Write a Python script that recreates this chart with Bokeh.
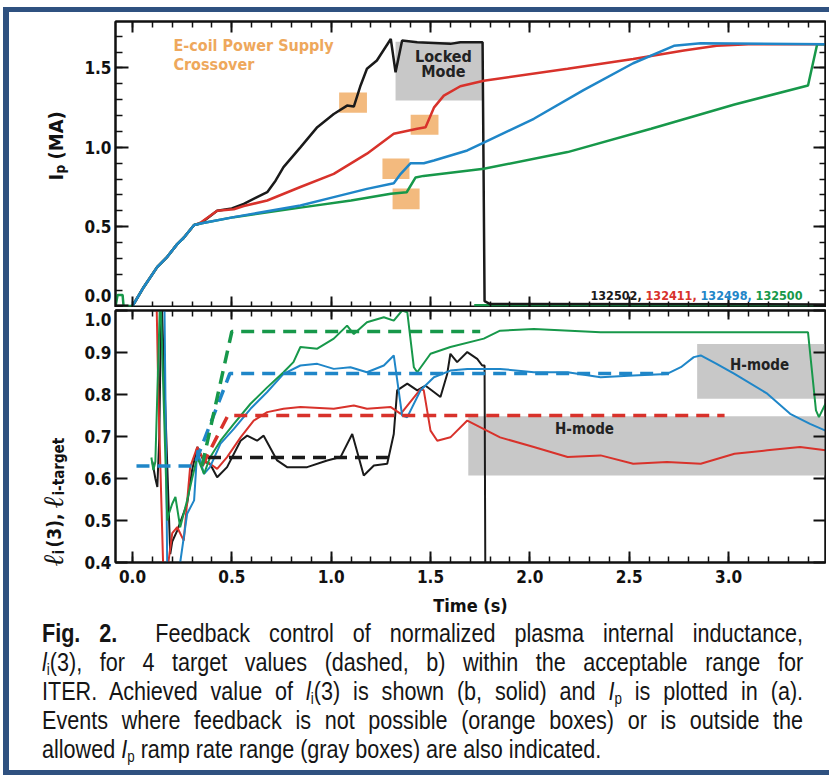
import numpy as np
from bokeh.plotting import figure
from bokeh.models import Range1d, FixedTicker, CustomJSTickFormatter, LinearAxis, Label, Div
from bokeh.layouts import column, row
from bokeh.embed import file_html
from bokeh.resources import INLINE
from bokeh.core.properties import value

# ---------------- data ----------------
shots = ["132502", "132411", "132498", "132500"]
shot_colors = ["#1a1a1a", "#d8322b", "#1f86c8", "#17984a"]

# (a) plasma current Ip (MA) vs time (s)
ip_t_black = [0.0, 0.057, 0.124, 0.175, 0.225, 0.258, 0.31, 0.342, 0.426, 0.5, 0.56, 0.627, 0.678, 0.72, 0.76,
              0.845, 0.93, 1.013, 1.08, 1.114, 1.148, 1.18, 1.23, 1.30, 1.324, 1.357, 1.433, 1.60, 1.65,
              1.762, 1.772, 1.80, 3.488]
ip_black = [0.0, 0.12, 0.245, 0.31, 0.39, 0.43, 0.51, 0.52, 0.60, 0.615, 0.644, 0.686, 0.717, 0.79, 0.875,
            1.0, 1.127, 1.21, 1.263, 1.257, 1.39, 1.495, 1.547, 1.683, 1.473, 1.673, 1.662, 1.652, 1.662,
            1.662, 0.03, 0.012, 0.01]
ip_t_red = [0.0, 0.057, 0.124, 0.175, 0.225, 0.258, 0.31, 0.342, 0.426, 0.51, 0.56, 0.678, 0.845, 1.013,
            1.18, 1.315, 1.433, 1.475, 1.517, 1.567, 1.65, 1.768, 2.19, 2.52, 2.775, 2.94, 3.1, 3.488]
ip_red = [0.0, 0.12, 0.245, 0.31, 0.39, 0.43, 0.51, 0.525, 0.60, 0.61, 0.63, 0.665, 0.75, 0.833,
          0.96, 1.085, 1.117, 1.127, 1.25, 1.326, 1.385, 1.42, 1.495, 1.557, 1.61, 1.64, 1.65, 1.65]
ip_t_blue = [0.0, 0.057, 0.124, 0.175, 0.225, 0.258, 0.31, 0.342, 0.51, 0.845, 1.013, 1.18, 1.315, 1.35,
             1.40, 1.466, 1.517, 1.685, 1.768, 2.02, 2.27, 2.52, 2.725, 2.86, 3.488]
ip_blue = [0.0, 0.12, 0.245, 0.31, 0.39, 0.43, 0.51, 0.52, 0.56, 0.633, 0.686, 0.738, 0.774, 0.833,
           0.90, 0.90, 0.917, 0.98, 1.03, 1.18, 1.36, 1.53, 1.64, 1.656, 1.65]
ip_t_green = [-0.085, -0.075, -0.05, -0.045, 0.0, 0.057, 0.124, 0.175, 0.225, 0.258, 0.31, 0.342, 0.51,
              0.845, 1.10, 1.30, 1.38, 1.425, 1.465, 1.768, 2.19, 2.61, 3.03, 3.40, 3.446, 3.488]
ip_green = [0.0, 0.07, 0.07, 0.0, 0.0, 0.12, 0.245, 0.31, 0.39, 0.43, 0.51, 0.52, 0.56,
            0.62, 0.665, 0.707, 0.717, 0.81, 0.82, 0.865, 0.97, 1.117, 1.27, 1.39, 1.65, 1.65]
ip_t_base = [1.72, 3.488]
ip_base = [0.004, 0.004]

# (b) li(3) achieved (solid)
li_t_black = [0.10, 0.115, 0.125, 0.135, 0.145, 0.19, 0.20, 0.225, 0.275, 0.30, 0.326, 0.36, 0.39, 0.426,
              0.476, 0.544, 0.577, 0.627, 0.66, 0.728, 0.778, 0.879, 0.98, 1.047, 1.106, 1.164, 1.215,
              1.282, 1.315, 1.332, 1.383, 1.433, 1.475, 1.517, 1.55, 1.584, 1.60, 1.634, 1.685, 1.735,
              1.76, 1.772, 1.776]
li_black = [0.64, 0.60, 0.58, 0.70, 1.05, 0.42, 0.45, 0.476, 0.54, 0.62, 0.675, 0.64, 0.635, 0.603,
            0.627, 0.69, 0.702, 0.69, 0.702, 0.643, 0.627, 0.627, 0.643, 0.651, 0.706, 0.607, 0.631,
            0.635, 0.706, 0.81, 0.826, 0.81, 0.821, 0.806, 0.794, 0.849, 0.897, 0.877, 0.901, 0.885,
            0.869, 0.869, 0.35]
li_t_red = [0.12, 0.13, 0.155, 0.175, 0.20, 0.225, 0.258, 0.29, 0.326, 0.36, 0.39, 0.426, 0.476, 0.544,
            0.61, 0.678, 0.76, 0.845, 1.013, 1.114, 1.18, 1.30, 1.35, 1.45, 1.466, 1.50, 1.534, 1.60,
            1.685, 1.85, 2.02, 2.19, 2.356, 2.52, 2.69, 2.86, 3.03, 3.195, 3.36, 3.488]
li_red = [1.05, 0.80, 0.38, 0.38, 0.47, 0.484, 0.452, 0.627, 0.675, 0.643, 0.635, 0.623, 0.651, 0.698,
          0.738, 0.758, 0.766, 0.77, 0.766, 0.774, 0.766, 0.77, 0.754, 0.813, 0.81, 0.714, 0.69, 0.698,
          0.738, 0.698, 0.675, 0.651, 0.655, 0.635, 0.639, 0.635, 0.659, 0.667, 0.675, 0.667]
li_t_blue = [0.16, 0.175, 0.21, 0.24, 0.275, 0.31, 0.326, 0.36, 0.39, 0.443, 0.51, 0.594, 0.678, 0.76,
             0.845, 0.93, 1.013, 1.097, 1.18, 1.265, 1.315, 1.357, 1.383, 1.45, 1.517, 1.60, 1.685, 1.85,
             2.02, 2.19, 2.356, 2.52, 2.69, 2.76, 2.825, 2.86, 2.94, 3.03, 3.195, 3.31, 3.41, 3.488]
li_blue = [1.05, 0.38, 0.38, 0.40, 0.516, 0.548, 0.667, 0.611, 0.627, 0.683, 0.718, 0.766, 0.806, 0.849,
           0.869, 0.873, 0.861, 0.865, 0.853, 0.869, 0.893, 0.75, 0.746, 0.81, 0.841, 0.857, 0.861, 0.861,
           0.853, 0.853, 0.841, 0.845, 0.849, 0.865, 0.889, 0.893, 0.873, 0.849, 0.802, 0.754, 0.73, 0.714]
li_t_green = [0.095, 0.105, 0.115, 0.14, 0.175, 0.183, 0.20, 0.216, 0.24, 0.275, 0.30, 0.326, 0.36, 0.39,
              0.443, 0.51, 0.594, 0.678, 0.76, 0.81, 0.845, 0.93, 1.013, 1.08, 1.114, 1.18, 1.265, 1.315,
              1.357, 1.383, 1.416, 1.433, 1.50, 1.60, 1.768, 1.85, 2.02, 2.356, 2.69, 3.03, 3.40, 3.44,
              3.455, 3.488]
li_green = [0.65, 0.62, 0.64, 1.05, 0.50, 0.516, 0.54, 0.556, 0.484, 0.548, 0.60, 0.651, 0.611, 0.65,
            0.69, 0.73, 0.778, 0.817, 0.853, 0.877, 0.913, 0.909, 0.933, 0.964, 0.944, 0.972, 0.984, 0.976,
            1.0, 0.996, 0.865, 0.853, 0.897, 0.913, 0.933, 0.952, 0.956, 0.948, 0.948, 0.948, 0.948, 0.762,
            0.746, 0.778]

# (b) li targets (dashed)
tg_t_black = [0.38, 1.30]
tg_black = [0.65, 0.65]
tg_t_red = [0.35, 0.48, 2.98]
tg_red = [0.63, 0.75, 0.75]
tg_t_blue = [0.02, 0.31, 0.49, 2.70]
tg_blue = [0.63, 0.63, 0.85, 0.85]
tg_t_green = [0.35, 0.50, 1.75]
tg_green = [0.63, 0.95, 0.95]

# event boxes
orange_left = [1.04, 1.40, 1.258, 1.309]
orange_right = [1.18, 1.54, 1.394, 1.445]
orange_bottom = [1.218, 1.08, 0.80, 0.61]
orange_top = [1.345, 1.206, 0.93, 0.74]
locked_box = dict(left=[1.324], right=[1.762], bottom=[1.295], top=[1.665])
hmode_left = [1.69, 2.842]
hmode_right = [3.488, 3.488]
hmode_bottom = [0.607, 0.79]
hmode_top = [0.748, 0.92]

x_major = [0.0, 0.5, 1.0, 1.5, 2.0, 2.5, 3.0]
x_minor = [round(0.1 * i, 1) for i in range(0, 35)]
ip_major = [0.0, 0.5, 1.0, 1.5]
ip_minor = [round(0.1 * i, 1) for i in range(0, 18)]
ip_label_at = [0.066, 0.5, 1.0, 1.5]      # "0.0" label sits just above its tick
li_major = [0.4, 0.5, 0.6, 0.7, 0.8, 0.9, 1.0]
li_label_at = [0.4, 0.5, 0.6, 0.7, 0.8, 0.9, 0.978]   # "1.0" label sits just below the top

# ---------------- styling ----------------
FONT = "Liberation Sans Narrow, Arial Narrow, DejaVu Sans Condensed, sans-serif"
SERIF = "Liberation Serif, DejaVu Serif, serif"
BLUE_FRAME = "#2f5180"
ORANGE = "#f3ba7e"
ORANGE_TXT = "#eea85c"
GRAY = "#c8c8c8"
INK = "#111111"
TICK_SIZE = "17px"

fmt_plain = CustomJSTickFormatter(code="return tick.toFixed(1);")
fmt_blank = CustomJSTickFormatter(code="return '';")
fmt_ip = CustomJSTickFormatter(code="return tick < 0.2 ? '0.0' : tick.toFixed(1);")
fmt_li = CustomJSTickFormatter(code="return tick > 0.95 ? '1.0' : tick.toFixed(1);")


def style_axis(ax, fmt, tin, tmin):
    ax.axis_line_width = 2
    ax.axis_line_color = INK
    ax.major_tick_in = tin
    ax.major_tick_out = 0
    ax.minor_tick_in = tmin
    ax.minor_tick_out = 0
    ax.major_tick_line_width = 2
    ax.minor_tick_line_width = 1.5
    ax.major_tick_line_color = INK
    ax.minor_tick_line_color = INK
    ax.formatter = fmt
    ax.major_label_text_font = FONT
    ax.major_label_text_font_style = "bold"
    ax.major_label_text_font_size = TICK_SIZE
    ax.major_label_text_color = INK
    if fmt is fmt_blank:
        ax.major_label_standoff = 0


def label_axis(ticks, fmt):
    ax = LinearAxis(ticker=FixedTicker(ticks=ticks, minor_ticks=[]), formatter=fmt)
    ax.axis_line_color = None
    ax.major_tick_line_color = None
    ax.minor_tick_line_color = None
    ax.major_tick_in = 0
    ax.major_tick_out = 0
    ax.minor_tick_in = 0
    ax.minor_tick_out = 0
    ax.major_label_standoff = 4
    ax.major_label_text_font = FONT
    ax.major_label_text_font_style = "bold"
    ax.major_label_text_font_size = TICK_SIZE
    ax.major_label_text_color = INK
    return ax


XR = (-0.0856, 3.488)
TOP_H = 9 + 286 + 0
BOT_H = 3 + 252 + 57

# ---------- top panel ----------
top = figure(frame_width=710, frame_height=286, min_border_left=35, min_border_right=1,
             min_border_top=9, min_border_bottom=0, x_range=Range1d(*XR),
             y_range=Range1d(-0.0095, 1.793), output_backend="svg", toolbar_location=None,
             background_fill_color="white", border_fill_color="white")
top.grid.visible = False
top.outline_line_color = INK
top.outline_line_width = 2
top.xaxis.ticker = FixedTicker(ticks=x_major, minor_ticks=x_minor)
top.yaxis.ticker = FixedTicker(ticks=ip_major, minor_ticks=ip_minor)
style_axis(top.xaxis[0], fmt_blank, 11, 6)
style_axis(top.yaxis[0], fmt_blank, 13, 7)
top.add_layout(label_axis(ip_label_at, fmt_ip), "left")
ax = LinearAxis(ticker=FixedTicker(ticks=ip_major, minor_ticks=ip_minor))
style_axis(ax, fmt_blank, 12, 6)
top.add_layout(ax, "right")
ax = LinearAxis(ticker=FixedTicker(ticks=x_major, minor_ticks=x_minor))
style_axis(ax, fmt_blank, 11, 6)
top.add_layout(ax, "above")

top.quad(left=orange_left, right=orange_right, bottom=orange_bottom, top=orange_top,
         fill_color=ORANGE, line_color=None)
top.quad(fill_color=GRAY, line_color=None, **locked_box)
top.line(ip_t_base, ip_base, line_color=shot_colors[3], line_width=2.5)
top.line(ip_t_black, ip_black, line_color=shot_colors[0], line_width=2.5)
top.line(ip_t_red, ip_red, line_color=shot_colors[1], line_width=2.5)
top.line(ip_t_green, ip_green, line_color=shot_colors[3], line_width=2.5)
top.line(ip_t_blue, ip_blue, line_color=shot_colors[2], line_width=2.5)

top.add_layout(Label(x=0.206, y=1.585, text="E-coil Power Supply", text_font=FONT,
                     text_font_style="bold", text_font_size="16px", text_color=ORANGE_TXT))
top.add_layout(Label(x=0.206, y=1.465, text="Crossover", text_font=FONT,
                     text_font_style="bold", text_font_size="16px", text_color=ORANGE_TXT))
top.add_layout(Label(x=1.565, y=1.515, text="Locked", text_font=FONT, text_align="center",
                     text_font_style="bold", text_font_size="16px", text_color="#222222"))
top.add_layout(Label(x=1.565, y=1.415, text="Mode", text_font=FONT, text_align="center",
                     text_font_style="bold", text_font_size="16px", text_color="#222222"))
leg_x = [2.305, 2.582, 2.859, 3.136]
for i, (s, c) in enumerate(zip(shots, shot_colors)):
    txt = s + ("," if i < 3 else "")
    top.add_layout(Label(x=leg_x[i], y=0.039, text=txt, text_font=FONT, text_font_style="bold",
                         text_font_size="12.5px", text_color=c))

# ---------- bottom panel ----------
bot = figure(frame_width=710, frame_height=252, min_border_left=35, min_border_right=1,
             min_border_top=3, min_border_bottom=57, x_range=Range1d(*XR),
             y_range=Range1d(0.4, 1.0), output_backend="svg", toolbar_location=None,
             background_fill_color="white", border_fill_color="white")
bot.grid.visible = False
bot.outline_line_color = INK
bot.outline_line_width = 2
bot.xaxis.ticker = FixedTicker(ticks=x_major, minor_ticks=x_minor)
bot.yaxis.ticker = FixedTicker(ticks=li_major, minor_ticks=[])
style_axis(bot.xaxis[0], fmt_plain, 11, 6)
bot.xaxis.major_label_standoff = 7
bot.xaxis.axis_label = "Time (s)"
bot.xaxis.axis_label_text_font = FONT
bot.xaxis.axis_label_text_font_style = "bold"
bot.xaxis.axis_label_text_font_size = "18px"
bot.xaxis.axis_label_text_color = INK
bot.xaxis.axis_label_standoff = 9
style_axis(bot.yaxis[0], fmt_blank, 12, 0)
bot.add_layout(label_axis(li_label_at, fmt_li), "left")
ax = LinearAxis(ticker=FixedTicker(ticks=li_major, minor_ticks=[]))
style_axis(ax, fmt_blank, 12, 0)
bot.add_layout(ax, "right")
ax = LinearAxis(ticker=FixedTicker(ticks=x_major, minor_ticks=x_minor))
style_axis(ax, fmt_blank, 9, 6)
bot.add_layout(ax, "above")

bot.quad(left=hmode_left, right=hmode_right, bottom=hmode_bottom, top=hmode_top,
         fill_color=GRAY, line_color=None)
bot.line(li_t_black, li_black, line_color=shot_colors[0], line_width=2)
bot.line(li_t_red, li_red, line_color=shot_colors[1], line_width=2)
bot.line(li_t_blue, li_blue, line_color=shot_colors[2], line_width=2)
bot.line(li_t_green, li_green, line_color=shot_colors[3], line_width=2)
for tt, vv, c in [(tg_t_black, tg_black, shot_colors[0]), (tg_t_red, tg_red, shot_colors[1]),
                  (tg_t_blue, tg_blue, shot_colors[2]), (tg_t_green, tg_green, shot_colors[3])]:
    bot.line(tt, vv, line_color=c, line_width=3.5, line_dash="13 8")

bot.add_layout(Label(x=2.275, y=0.717, text="H-mode", text_font=FONT, text_align="center",
                     text_baseline="middle", text_font_style="bold", text_font_size="15px",
                     text_color="#222222"))
bot.add_layout(Label(x=3.156, y=0.871, text="H-mode", text_font=FONT, text_align="center",
                     text_baseline="middle", text_font_style="bold", text_font_size="15px",
                     text_color="#222222"))

# ---------- y-axis titles (own narrow panel, pixel coordinates) ----------
LAB_W = 71
LAB_H = TOP_H + BOT_H
lab = figure(width=LAB_W, height=LAB_H, x_range=Range1d(0, LAB_W), y_range=Range1d(0, LAB_H),
             min_border=0, output_backend="svg", toolbar_location=None, outline_line_color=None,
             background_fill_color="white", border_fill_color="white")
lab.axis.visible = False
lab.grid.visible = False
title_parts = [
    # (x, y, text, font, style, size)   (x: baseline, y: start of the rotated text)
    (46, 439, "I", FONT, "bold", "20px"),
    (50, 446, "p", FONT, "bold", "13.5px"),
    (46, 460, "(MA)", FONT, "bold", "20px"),
    (44, 53, "\u2113", SERIF, "italic", "28px"),
    (49, 65, "i", FONT, "bold", "15px"),
    (44, 72, "(3),", FONT, "bold", "19px"),
    (44, 111, "\u2113", SERIF, "italic", "28px"),
    (49, 124, "i-target", FONT, "bold", "15px"),
]
for (xx, yy, txt, fnt, sty, sz) in title_parts:
    lab.text(x=[xx], y=[yy], text=[txt], angle=np.pi / 2, text_font=value(fnt),
             text_font_style=sty, text_font_size=sz, text_color=INK,
             text_align="left", text_baseline="alphabetic")

# ---------- caption ----------
cap_lines = [
    "<b>Fig. 2.</b>&nbsp; Feedback control of normalized plasma internal inductance,",
    "<i>l</i><sub>i</sub>(3), for 4 target values (dashed, b) within the acceptable range for",
    "ITER. Achieved value of <i>l</i><sub>i</sub>(3) is shown (b, solid) and <i>I</i><sub>p</sub> is plotted in (a).",
    "Events where feedback is not possible (orange boxes) or is outside the",
    "allowed <i>I</i><sub>p</sub> ramp rate range (gray boxes) are also indicated.",
]
sub_css = "font-size:62%;line-height:0;vertical-align:-0.22em;"
body = ""
for i, ln in enumerate(cap_lines):
    ln = ln.replace("<sub>", "<sub style='%s'>" % sub_css)
    if i < len(cap_lines) - 1:
        body += "<div style='text-align:justify;text-align-last:justify;white-space:nowrap'>%s</div>" % ln
    else:
        body += "<div style='text-align:left;white-space:nowrap'>%s</div>" % ln
SQ = 0.83
cap_html = ("<div style='margin-left:33px;margin-top:0px;width:%dpx;transform:scaleX(%s);"
            "transform-origin:0 0;font-family:Liberation Sans, Arial, sans-serif;font-size:26px;"
            "line-height:29px;color:#151515;'>%s</div>") % (round(761 / SQ), SQ, body)
CAP_H = 151
caption = Div(text=cap_html, width=816, height=CAP_H, margin=0)

# ---------- page frame (blue border, left/top/bottom) ----------
pad_top = Div(text="", width=829, height=7, margin=0)
pad_left = Div(text="", width=3, height=5 + LAB_H + CAP_H + 5, margin=0)
bar_top = Div(text="", width=826, height=5, margin=0, styles={"background-color": BLUE_FRAME})
bar_left = Div(text="", width=6, height=LAB_H + CAP_H, margin=0, styles={"background-color": BLUE_FRAME})
bar_bot = Div(text="", width=826, height=5, margin=0, styles={"background-color": BLUE_FRAME})

plots = row(lab, column(top, bot, spacing=0), spacing=0)
framed = column(bar_top, row(bar_left, column(plots, caption, spacing=0), spacing=0), bar_bot,
                spacing=0)
layout = column(pad_top, row(pad_left, framed, spacing=0), spacing=0)

open("out.html", "w").write(file_html(layout, INLINE))
